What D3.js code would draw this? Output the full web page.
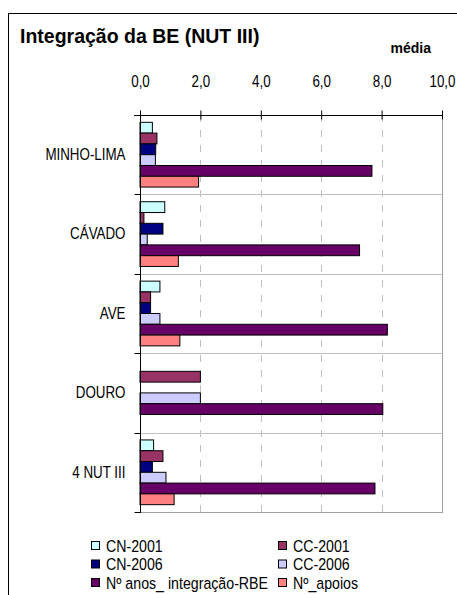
<!DOCTYPE html>
<html>
<head>
<meta charset="utf-8">
<script src="https://cdn.jsdelivr.net/npm/d3@7"></script>
<style>
  html, body { margin: 0; padding: 0; background: #ffffff; }
  svg { display: block; }
</style>
</head>
<body>
<svg id="chart" width="457" height="595"></svg>
<script>
const categories = ["MINHO-LIMA", "CÁVADO", "AVE", "DOURO", "4 NUT III"];
const seriesNames = ["CN-2001", "CC-2001", "CN-2006", "CC-2006", "Nº anos_ integração-RBE", "Nº_apoios"];
const seriesColors = ["#CCFFFF", "#993366", "#000080", "#CCCCFF", "#660066", "#FF8080"];
const cn2001 = [0.41, 0.82, 0.66, null, 0.45];
const cc2001 = [0.56, 0.13, 0.35, 2.00, 0.76];
const cn2006 = [0.52, 0.76, 0.35, null, 0.41];
const cc2006 = [0.51, 0.24, 0.66, 2.00, 0.86];
const anosIntegracao = [7.68, 7.27, 8.19, 8.04, 7.78];
const apoios = [1.94, 1.27, 1.32, null, 1.13];
const tickValues = [0, 2, 4, 6, 8, 10];
const titleText = "Integração da BE (NUT III)";
const axisTitle = "média";

const seriesValues = [cn2001, cc2001, cn2006, cc2006, anosIntegracao, apoios];

const FONT = "'Liberation Sans', Arial, sans-serif";
const svg = d3.select("#chart");
const pLeft = 140, pRight = 442, pTop = 115, pBottom = 512;

// condense text horizontally around its anchor point
function condense(sel, k) {
  sel.each(function () {
    const t = d3.select(this);
    const tx = +(t.attr("x") || 0), ty = +(t.attr("y") || 0);
    t.attr("x", 0).attr("y", 0)
      .attr("transform", `translate(${tx},${ty}) scale(${k},1)`);
  });
}

// outer border (left and top only visible)
svg.append("line").attr("x1", 8.5).attr("x2", 8.5).attr("y1", 13).attr("y2", 595)
  .attr("stroke", "#000").attr("stroke-width", 1);
svg.append("line").attr("x1", 8).attr("x2", 457).attr("y1", 13.5).attr("y2", 13.5)
  .attr("stroke", "#000").attr("stroke-width", 1);

// title
svg.append("text").attr("x", 20).attr("y", 43)
  .attr("font-family", FONT)
  .attr("font-weight", "bold").attr("font-size", 19.5).attr("fill", "#000")
  .text(titleText);
svg.append("text").attr("x", 431).attr("y", 53).attr("text-anchor", "end")
  .attr("font-family", FONT)
  .attr("font-weight", "bold").attr("font-size", 14).attr("fill", "#000")
  .text(axisTitle);

const x = d3.scaleLinear().domain([0, 10]).range([pLeft, pRight]);
const y0 = d3.scaleBand().domain(categories).range([pTop, pBottom]).padding(0);
const y1 = d3.scaleBand().domain(seriesNames).range([0, y0.bandwidth()])
  .paddingInner(0).paddingOuter(0.68);

// horizontal gridlines at category boundaries
const boundaries = categories.slice(1).map(c => y0(c));
svg.append("g").selectAll("line").data(boundaries).join("line")
  .attr("x1", pLeft).attr("x2", pRight)
  .attr("y1", d => Math.round(d) + 0.5).attr("y2", d => Math.round(d) + 0.5)
  .attr("stroke", "#C0C0C0").attr("stroke-width", 1);

// vertical dashed gridlines
svg.append("g").selectAll("line").data(tickValues.slice(1, -1)).join("line")
  .attr("x1", d => Math.round(x(d)) + 0.5).attr("x2", d => Math.round(x(d)) + 0.5)
  .attr("y1", pTop).attr("y2", pBottom)
  .attr("stroke", "#C0C0C0").attr("stroke-width", 1).attr("stroke-dasharray", "7,8");

// plot area right and bottom border
svg.append("line").attr("x1", pRight + 0.5).attr("x2", pRight + 0.5).attr("y1", pTop).attr("y2", pBottom + 0.5)
  .attr("stroke", "#A0A0A0");
svg.append("line").attr("x1", pLeft).attr("x2", pRight + 1).attr("y1", pBottom + 0.5).attr("y2", pBottom + 0.5)
  .attr("stroke", "#A0A0A0");

// bars
const groups = svg.append("g").selectAll("g").data(categories).join("g")
  .attr("transform", c => `translate(0,${y0(c)})`);
groups.selectAll("rect")
  .data((c, ci) => seriesNames.map((s, si) => ({ s, si, v: seriesValues[si][ci] })).filter(d => d.v != null))
  .join("rect")
  .attr("x", x(0))
  .attr("y", d => y1(d.s))
  .attr("width", d => x(d.v) - x(0))
  .attr("height", y1.bandwidth())
  .attr("fill", d => seriesColors[d.si])
  .attr("stroke", "#000").attr("stroke-width", 1);

// top value axis
const xAxis = d3.axisTop(x).tickValues(tickValues).tickSize(0).tickPadding(0)
  .tickFormat(d => d3.format(".1f")(d).replace(".", ","));
const gx = svg.append("g").attr("transform", `translate(0,${pTop + 0.5})`).call(xAxis);
gx.select(".domain").remove();
gx.append("line").attr("x1", 134).attr("x2", pRight + 1).attr("y1", 0).attr("y2", 0).attr("stroke", "#000");
gx.selectAll(".tick").append("line").attr("y1", -5).attr("y2", 4).attr("stroke", "#000");
gx.attr("font-family", FONT).attr("font-size", 16.5);
gx.selectAll(".tick text").attr("fill", "#000").attr("y", -29).attr("dy", 0).call(condense, 0.81);

// left category axis
const gy = svg.append("g").attr("transform", `translate(${pLeft + 0.5},0)`)
  .call(d3.axisLeft(y0).tickSize(0).tickPadding(15));
gy.select(".domain").remove();
gy.append("line").attr("x1", 0).attr("x2", 0).attr("y1", pTop).attr("y2", pBottom + 1).attr("stroke", "#000");
gy.attr("font-family", FONT).attr("font-size", 16.5);
gy.selectAll(".tick text").attr("fill", "#000").call(condense, 0.81);
gy.append("g").selectAll("line").data(categories.map(c => y0(c)).concat([y0.range()[1]])).join("line")
  .attr("x1", -6).attr("x2", 0)
  .attr("y1", d => Math.round(d) + 0.5).attr("y2", d => Math.round(d) + 0.5)
  .attr("stroke", "#000");

// legend
const legend = svg.append("g").attr("font-family", FONT).attr("font-size", 16.5);
const legendCols = [91, 278];
const legendRows = [546, 564.5, 583];
seriesNames.forEach((s, i) => {
  const cx = legendCols[i % 2], cy = legendRows[Math.floor(i / 2)];
  legend.append("rect").attr("x", cx + 0.5).attr("y", cy - 4.5).attr("width", 8).attr("height", 8)
    .attr("fill", seriesColors[i]).attr("stroke", "#000");
  legend.append("text").attr("x", cx + 15).attr("y", cy)
    .attr("dy", "0.36em").attr("fill", "#000").text(s).call(condense, 0.86);
});
</script>
</body>
</html>
